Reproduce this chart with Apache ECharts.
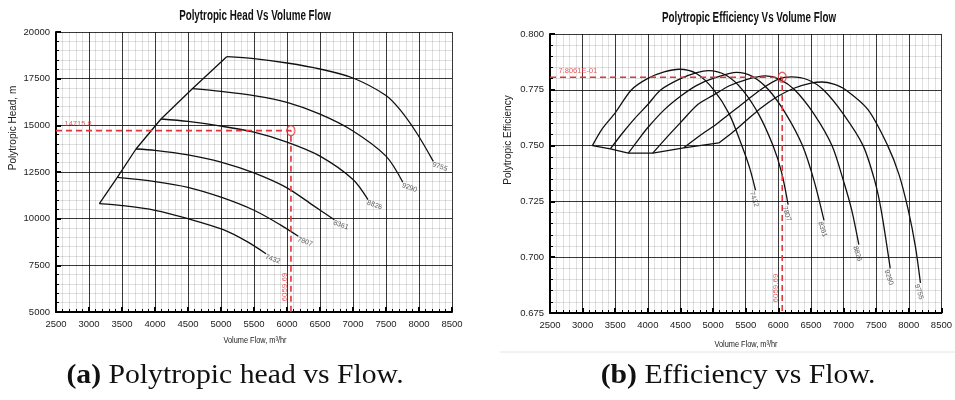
<!DOCTYPE html>
<html><head><meta charset="utf-8">
<script src="https://cdn.jsdelivr.net/npm/echarts@6/dist/echarts.min.js"></script>
<style>html,body{margin:0;padding:0;background:#fff}#c{width:955px;height:400px}</style>
</head><body><div id="c"></div>
<script>
// ---- data ----
const speeds = ['7432', '7807', '8361', '8826', '9290', '9755'];

const head7432 = [[3157,10804],[3500,10700],[4000,10450],[4500,10000],[5035,9410],[5389,8783],[5682,8124]];
const head7807 = [[3429,12214],[4000,11990],[4500,11680],[5000,11150],[5500,10450],[5900,9670],[6172,9054]];
const head8361 = [[3712,13732],[4000,13661],[4500,13420],[5000,13030],[5500,12450],[6000,11650],[6400,10700],[6717,9946]];
const head8826 = [[4091,15339],[4500,15210],[5000,14960],[5500,14630],[6000,14100],[6500,13350],[7000,12100],[7227,11018]];
const head9290 = [[4566,16964],[5000,16821],[5500,16589],[6000,16232],[6500,15600],[7000,14700],[7500,13350],[7755,11950]];
const head9755 = [[5086,18679],[5500,18571],[6000,18339],[6500,18018],[7000,17536],[7500,16600],[7712,15839],[7965,14589],[8217,13071]];

const eff7432 = [[3150,0.7500],[3300,0.7575],[3500,0.7647],[3750,0.7750],[4000,0.7801],[4250,0.7830],[4480,0.7842],[4750,0.7822],[5010,0.7750],[5250,0.7640],[5440,0.7500],[5560,0.7400],[5650,0.7300]];
const eff7807 = [[3425,0.7485],[3600,0.7552],[3800,0.7622],[4000,0.7684],[4200,0.7750],[4500,0.7800],[4750,0.7827],[4930,0.7836],[5200,0.7815],[5450,0.7750],[5700,0.7640],[5918,0.7500],[6050,0.7380],[6150,0.7235]];
const eff8361 = [[3700,0.7466],[3850,0.7525],[4000,0.7581],[4250,0.7660],[4500,0.7721],[4750,0.7770],[5000,0.7801],[5360,0.7828],[5600,0.7810],[5850,0.7750],[6120,0.7640],[6370,0.7500],[6550,0.7340],[6700,0.7165]];
const eff8826 = [[4075,0.7466],[4300,0.7540],[4500,0.7603],[4765,0.7684],[5000,0.7725],[5250,0.7768],[5500,0.7795],[5800,0.7812],[6020,0.7797],[6250,0.7750],[6550,0.7640],[6822,0.7500],[7000,0.7340],[7123,0.7213],[7234,0.7056]];
const eff9290 = [[4550,0.7490],[4800,0.7545],[5050,0.7596],[5500,0.7699],[5750,0.7755],[6000,0.7798],[6200,0.7808],[6450,0.7795],[6690,0.7750],[7000,0.7640],[7299,0.7500],[7480,0.7340],[7575,0.7213],[7715,0.6950]];
const eff9755 = [[5088,0.7512],[5300,0.7560],[5500,0.7610],[5750,0.7672],[6000,0.7722],[6250,0.7758],[6500,0.7780],[6670,0.7785],[6850,0.7775],[7030,0.7750],[7374,0.7661],[7676,0.7500],[7850,0.7370],[7990,0.7213],[8100,0.7050],[8178,0.6885]];

const headCurves = [head7432, head7807, head8361, head8826, head9290, head9755];
const effCurves  = [eff7432, eff7807, eff8361, eff8826, eff9290, eff9755];

const opFlow = 6059.69;
const opHead = 14715.8;
const opEff  = 0.78061;

const flowRange = [2500, 8500];
const headRange = [5000, 20000];
const effRange  = [0.675, 0.800];

// ---- chart ----
const SANS = "'Liberation Sans',Arial,sans-serif";
const RED = '#e2363b';

function mkX(gi) {
  return {
    type: 'value', gridIndex: gi, min: flowRange[0], max: flowRange[1], interval: 500,
    axisLine: { show: true, onZero: false, lineStyle: { color: '#000', width: 2 } },
    axisTick: { show: true, inside: true, length: 5, lineStyle: { color: '#000', width: 2 } },
    minorTick: { show: true, splitNumber: 5, length: 3, lineStyle: { color: '#000', width: 1 } },
    splitLine: { show: true, lineStyle: { color: 'rgba(0,0,0,0.78)', width: 1 } },
    minorSplitLine: { show: true, lineStyle: { color: 'rgba(0,0,0,0.12)', width: 1 } },
    axisLabel: { color: '#222', fontFamily: SANS, fontSize: 9.5, margin: 7, formatter: v => String(v) }
  };
}
function mkY(gi, range, interval, fmt) {
  return {
    type: 'value', gridIndex: gi, min: range[0], max: range[1], interval: interval,
    axisLine: { show: true, onZero: false, lineStyle: { color: '#000', width: 2 } },
    axisTick: { show: true, inside: true, length: 5, lineStyle: { color: '#000', width: 2 } },
    minorTick: { show: true, splitNumber: 5, length: 3, lineStyle: { color: '#000', width: 1 } },
    splitLine: { show: true, lineStyle: { color: 'rgba(0,0,0,0.78)', width: 1 } },
    minorSplitLine: { show: true, lineStyle: { color: 'rgba(0,0,0,0.12)', width: 1 } },
    axisLabel: { color: '#222', fontFamily: SANS, fontSize: 9.5, margin: 6, formatter: fmt }
  };
}

const series = [];
function addCurves(curves, gi, labelRot, labelPos) {
  curves.forEach((c, i) => {
    series.push({
      type: 'line', xAxisIndex: gi, yAxisIndex: gi, data: c,
      smooth: 0.3, symbol: 'none', silent: true,
      lineStyle: { color: '#111', width: 1.3 }, z: 5
    });
    series.push({
      type: 'scatter', xAxisIndex: gi, yAxisIndex: gi, data: [c[c.length - 1]],
      symbolSize: 1, itemStyle: { color: 'rgba(0,0,0,0)' }, silent: true, z: 6,
      label: { show: true, formatter: speeds[i], rotate: labelRot, position: labelPos,
               align: 'left', verticalAlign: 'top', fontSize: 7, color: '#333', fontFamily: SANS }
    });
  });
  series.push({
    type: 'line', xAxisIndex: gi, yAxisIndex: gi, data: curves.map(c => c[0]),
    smooth: false, symbol: 'none', silent: true, lineStyle: { color: '#111', width: 1.3 }, z: 5
  });
}
addCurves(headCurves, 0, -20, [1, 0]);
addCurves(effCurves, 1, -72, [0, 1]);

function addOp(gi, yVal, yMin, yText) {
  series.push({
    type: 'line', xAxisIndex: gi, yAxisIndex: gi,
    data: [[flowRange[0], yVal], [opFlow, yVal], [opFlow, yMin]],
    symbol: 'none', silent: true, z: 7,
    lineStyle: { color: RED, width: 1.6, type: [6, 4] }
  });
  series.push({
    type: 'scatter', xAxisIndex: gi, yAxisIndex: gi, data: [[opFlow, yVal]],
    symbol: 'circle', symbolSize: [8, 10], silent: true, z: 8,
    itemStyle: { color: 'rgba(0,0,0,0)', borderColor: RED, borderWidth: 1.3 }
  });
  series.push({
    type: 'scatter', xAxisIndex: gi, yAxisIndex: gi, data: [[flowRange[0], yVal]],
    symbolSize: 1, itemStyle: { color: 'rgba(0,0,0,0)' }, silent: true, z: 8,
    label: { show: true, formatter: yText, position: [9, -10], align: 'left', verticalAlign: 'top',
             fontSize: 7.5, color: RED, fontFamily: SANS }
  });
  series.push({
    type: 'scatter', xAxisIndex: gi, yAxisIndex: gi, data: [[opFlow, yMin]],
    symbolSize: 1, itemStyle: { color: 'rgba(0,0,0,0)' }, silent: true, z: 8,
    label: { show: true, formatter: opFlow.toFixed(2), rotate: 90, position: [-2, -10],
             align: 'left', verticalAlign: 'bottom', fontSize: 8, color: RED, fontFamily: SANS }
  });
}
const effText = opEff.toExponential(4).replace(/e([+-])(\d)$/, 'E$10$2');
addOp(0, opHead, headRange[0], String(opHead));
addOp(1, opEff, effRange[0], effText);

const titleFont = "bold 14px 'Liberation Sans', Arial, sans-serif";
const capFont = "27px 'Liberation Serif', 'DejaVu Serif', serif";
const capRich = { b: { fontWeight: 'bold', fontSize: 27, fontFamily: "'Liberation Serif', serif", fill: '#111' } };

const option = {
  backgroundColor: '#fff',
  animation: false,
  grid: [
    { left: 56, top: 32, width: 396, height: 280, containLabel: false },
    { left: 550, top: 34, width: 398, height: 279, containLabel: false }
  ],
  xAxis: [mkX(0), mkX(1)],
  yAxis: [
    mkY(0, headRange, 2500, v => String(v)),
    mkY(1, effRange, 0.025, v => v.toFixed(3))
  ],
  series: series,
  graphic: [
    { type: 'text', x: 255, y: 16, scaleX: 0.7,
      style: { text: 'Polytropic Head Vs Volume Flow', align: 'center', verticalAlign: 'middle',
               font: titleFont, fill: '#111' } },
    { type: 'text', x: 749, y: 18, scaleX: 0.7,
      style: { text: 'Polytropic Efficiency Vs Volume Flow', align: 'center', verticalAlign: 'middle',
               font: titleFont, fill: '#111' } },
    { type: 'text', x: 13, y: 128, rotation: Math.PI / 2,
      style: { text: 'Polytropic Head, m', align: 'center', verticalAlign: 'middle',
               font: "10px 'Liberation Sans', Arial, sans-serif", fill: '#222' } },
    { type: 'text', x: 508, y: 140, rotation: Math.PI / 2,
      style: { text: 'Polytropic Efficiency', align: 'center', verticalAlign: 'middle',
               font: "10px 'Liberation Sans', Arial, sans-serif", fill: '#222' } },
    { type: 'text', x: 255, y: 341, scaleX: 0.82,
      style: { text: 'Volume Flow, m³/hr', align: 'center', verticalAlign: 'middle',
               font: "9px 'Liberation Sans', Arial, sans-serif", fill: '#222' } },
    { type: 'text', x: 746, y: 345, scaleX: 0.82,
      style: { text: 'Volume Flow, m³/hr', align: 'center', verticalAlign: 'middle',
               font: "9px 'Liberation Sans', Arial, sans-serif", fill: '#222' } },
    { type: 'line', shape: { x1: 500, y1: 352, x2: 955, y2: 352 },
      style: { stroke: '#e4e4e4', lineWidth: 1 } },
    { type: 'text', x: 235, y: 376, scaleX: 1.1,
      style: { text: '{b|(a)} Polytropic head vs Flow.', align: 'center', verticalAlign: 'middle',
               font: capFont, fill: '#111', rich: capRich } },
    { type: 'text', x: 738, y: 376, scaleX: 1.1,
      style: { text: '{b|(b)} Efficiency vs Flow.', align: 'center', verticalAlign: 'middle',
               font: capFont, fill: '#111', rich: capRich } }
  ]
};
const chart = echarts.init(document.getElementById('c'), null, { renderer: 'canvas' });
chart.setOption(option);
</script>
</body></html>
